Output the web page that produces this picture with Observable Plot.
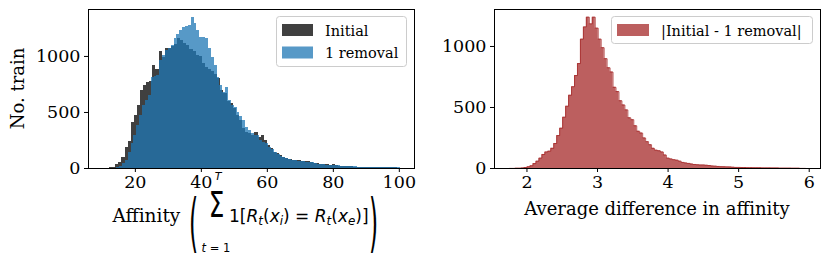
<!DOCTYPE html>
<html><head><meta charset="utf-8">
<script src="https://cdn.jsdelivr.net/npm/d3@7"></script>
<script src="https://cdn.jsdelivr.net/npm/@observablehq/plot@0.6"></script>
<style>
body{margin:0;background:#fff;}
#fig{position:relative;width:830px;height:261px;font-family:"DejaVu Serif",serif;overflow:hidden;}
#fig svg{position:absolute;top:0;}
</style></head><body><div id="fig"></div>
<script>
// ---- data ----
const initialStart = 10.3, initialWidth = 0.9375;
const initialCounts = [3,4,6,10,33,57,100,190,241,414,
 473,562,696,741,770,775,915,885,1040,995,
 1068,1075,1085,1110,1160,1145,1120,1095,1065,1040,
 1010,1000,940,900,880,865,840,800,696,667,
 600,580,533,473,428,354,324,310,295,324,
 280,295,250,205,175,146,130,115,100,88,
 84,75,70,68,65,64,60,55,46,44,
 38,36,32,30,33,30,22,18,16,15,
 14,12,12,11,10,9,9,8,8,7,
 7,6,6,5,5,4];
const removalStart = 13.5, removalWidth = 0.868;
const removalCounts = [4,8,20,45,75,146,220,295,384,473,
 562,610,652,815,825,830,960,1009,1050,1068,
 1098,1158,1200,1232,1262,1265,1277,1351,1292,1230,
 1173,1165,1158,1068,994,920,815,740,680,726,
 607,560,540,503,460,428,369,340,310,295,
 295,250,235,220,190,170,140,125,110,98,
 90,82,75,70,66,63,60,58,55,50,
 44,40,37,34,30,29,28,27,24,21,
 19,18,16,15,14,13,12,11,10,10,
 9,9,8,8,7,7,6,6,6,5];
const diffStart = 1.75, diffWidth = 0.042;
const diffCounts = [1,1,2,2,4,8,14,22,40,60,
 85,115,135,142,165,205,270,330,420,510,
 600,670,762,860,1060,1160,1240,1185,1240,1150,
 1060,990,900,825,790,665,630,555,520,480,
 415,400,350,305,290,250,220,195,165,150,
 145,135,110,85,78,72,68,60,50,45,
 42,36,33,30,28,28,26,24,20,19,
 17,15,14,13,12,10,9,9,8,8,
 7,7,6,6,6,5,5,5,4,4,
 4,3,3,3,3,2,2,2,1,1];
const leftXTicks = [20,40,60,80,100];
const rightXTicks = [2,3,4,5,6];
const yTicks = [0,500,1000];
const leftLegend = ["Initial","1 removal"];
const rightLegend = ["|Initial - 1 removal|"];

function bins(start, width, counts){
  return counts.map((c,i)=>({x1:start+i*width, x2:start+(i+1)*width, y:c}));
}
function steps(start, width, counts){
  const out = counts.map((c,i)=>({x:start+i*width, y:c}));
  out.push({x:start+counts.length*width, y:counts[counts.length-1]});
  return out;
}
function outline(start, width, counts){
  const s = steps(start, width, counts);
  return [{x:start,y:0}, ...s, {x:s[s.length-1].x, y:0}];
}
const style = {fontFamily:'"DejaVu Serif", serif', fontSize:"17.5px", color:"#000", background:"transparent", overflow:"visible"};
const fmt = d => String(d);

const left = Plot.plot({
  width:420, height:261, marginLeft:88, marginRight:6, marginTop:9, marginBottom:93,
  x:{domain:[5.8,104.6]}, y:{domain:[0,1419]}, style,
  marks:[
    Plot.rectY(bins(initialStart, initialWidth, initialCounts), {x1:"x1", x2:"x2", y:"y", fill:"#000", fillOpacity:0.75, inset:0, shapeRendering:"crispEdges"}),
    Plot.rectY(bins(removalStart, removalWidth, removalCounts), {x1:"x1", x2:"x2", y:"y", fill:"#1f77b4", fillOpacity:0.75, inset:0, shapeRendering:"crispEdges"}),
    Plot.frame({stroke:"#000", strokeWidth:1}),
    Plot.axisX({ticks:leftXTicks, tickSize:4, tickPadding:3, tickFormat:fmt, label:null}),
    Plot.axisY({ticks:yTicks, tickSize:4, tickPadding:4, tickFormat:fmt, label:null})
  ]
});
left.style.left = "0px";

const right = Plot.plot({
  width:410, height:261, marginLeft:74, marginRight:10, marginTop:9, marginBottom:93,
  x:{domain:[1.54,6.16]}, y:{domain:[0,1303]}, style,
  marks:[
    Plot.areaY(steps(diffStart, diffWidth, diffCounts), {x:"x", y:"y", curve:"step-after", fill:"#a52a2a", fillOpacity:0.75}),
    Plot.lineY(outline(diffStart, diffWidth, diffCounts), {x:"x", y:"y", curve:"step-after", stroke:"#a52a2a", strokeOpacity:0.75, strokeWidth:1}),
    Plot.frame({stroke:"#000", strokeWidth:1}),
    Plot.axisX({ticks:rightXTicks, tickSize:4, tickPadding:3, tickFormat:fmt, label:null}),
    Plot.axisY({ticks:yTicks, tickSize:4, tickPadding:4, tickFormat:fmt, label:null})
  ]
});
right.style.left = "420px";

const fig = document.getElementById("fig");
fig.appendChild(left);
fig.appendChild(right);

const math = 'font-family="DejaVu Sans"';
const overlay = `
<svg width="830" height="261" xmlns="http://www.w3.org/2000/svg" style="left:0;font-family:'DejaVu Serif',serif" fill="#000">
  <text transform="translate(24,88.5) rotate(-90)" text-anchor="middle" font-size="18">No. train</text>
  <text x="657" y="215" text-anchor="middle" font-size="18">Average difference in affinity</text>
  <text x="112.5" y="222" font-size="18.5">Affinity</text>
  <text ${math} font-size="18" text-anchor="middle" transform="translate(193.5,245) scale(1.3,3.6)">(</text>
  <text ${math} font-size="26" text-anchor="middle" transform="translate(216.5,217) scale(0.95,1.35)">Σ</text>
  <text ${math} font-size="11" font-style="italic" text-anchor="middle" x="218" y="180">T</text>
  <text ${math} font-size="11.5" text-anchor="middle" x="216" y="251.5"><tspan font-style="italic">t</tspan> = 1</text>
  <text ${math} font-size="17" x="229" y="222">1[<tspan font-style="italic">R</tspan><tspan font-style="italic" font-size="12" dy="3">t</tspan><tspan dy="-3">(</tspan><tspan font-style="italic">x</tspan><tspan font-style="italic" font-size="12" dy="3">i</tspan><tspan dy="-3">) = </tspan><tspan font-style="italic">R</tspan><tspan font-style="italic" font-size="12" dy="3">t</tspan><tspan dy="-3">(</tspan><tspan font-style="italic">x</tspan><tspan font-style="italic" font-size="12" dy="3">e</tspan><tspan dy="-3">)]</tspan></text>
  <text ${math} font-size="18" text-anchor="middle" transform="translate(373.5,245) scale(1.3,3.6)">)</text>

  <rect x="276.5" y="16.5" width="130" height="50" rx="3" fill="#fff" fill-opacity="0.8" stroke="#cccccc"/>
  <rect x="282" y="24" width="31" height="12" fill="#000" fill-opacity="0.75"/>
  <rect x="282" y="46.5" width="31" height="12" fill="#1f77b4" fill-opacity="0.75"/>
  <text x="325" y="35.5" font-size="14.5">${leftLegend[0]}</text>
  <text x="325" y="58" font-size="14.5">${leftLegend[1]}</text>

  <rect x="611.5" y="16.5" width="201" height="27" rx="3" fill="#fff" fill-opacity="0.8" stroke="#cccccc"/>
  <rect x="617" y="24" width="32" height="12" fill="#a52a2a" fill-opacity="0.75"/>
  <text x="661" y="35.5" font-size="14.5">${rightLegend[0]}</text>
</svg>`;
fig.insertAdjacentHTML("beforeend", overlay);
</script></body></html>
